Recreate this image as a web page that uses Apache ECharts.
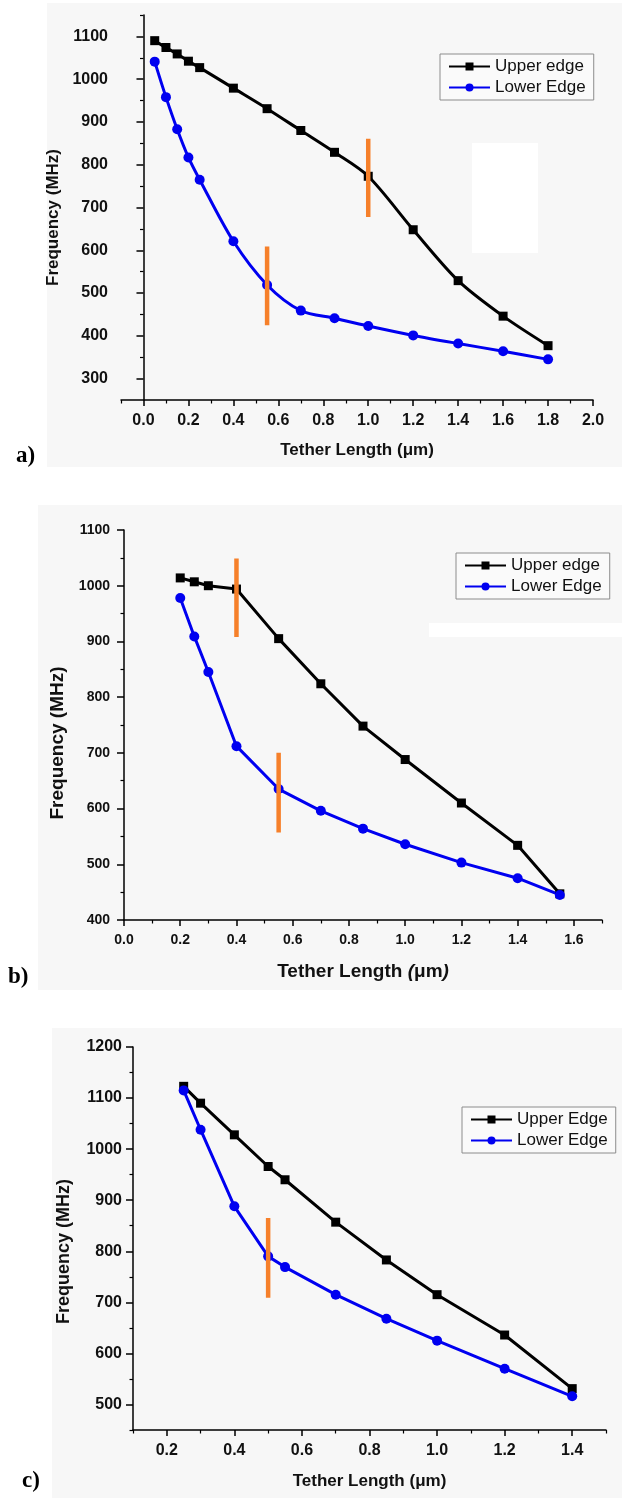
<!DOCTYPE html>
<html>
<head>
<meta charset="utf-8">
<script src="https://cdn.jsdelivr.net/npm/echarts@6/dist/echarts.min.js"></script>
<style>
  html, body { margin: 0; padding: 0; background: #fff; }
  #chart { width: 622px; height: 1498px; }
</style>
</head>
<body>
<div id="chart"></div>
<script>
// panel a
const xA = [0.05, 0.1, 0.15, 0.2, 0.25, 0.4, 0.55, 0.7, 0.85, 1.0, 1.2, 1.4, 1.6, 1.8]
const upperA = [1090, 1074, 1059, 1042, 1027, 979, 931, 880, 829, 773, 648, 529, 446, 377]
const lowerA = [1041, 958, 883, 817, 765, 621, 519, 459, 441, 423, 401, 382, 364, 345]
const markA1 = [[1.0, 861], [1.0, 678]]
const markA2 = [[0.55, 609], [0.55, 425]]
const xTicksA = [0.0, 0.2, 0.4, 0.6, 0.8, 1.0, 1.2, 1.4, 1.6, 1.8, 2.0]
const xMinorA = [-0.1, 0.1, 0.3, 0.5, 0.7, 0.9, 1.1, 1.3, 1.5, 1.7, 1.9]
const yTicksA = [300, 400, 500, 600, 700, 800, 900, 1000, 1100]
const yMinorA = [350, 450, 550, 650, 750, 850, 950, 1050, 1150]

// panel b
const xB = [0.2, 0.25, 0.3, 0.4, 0.55, 0.7, 0.85, 1.0, 1.2, 1.4, 1.55]
const upperB = [1014, 1007, 1000, 994, 905, 824, 748, 688, 610, 534, 447]
const lowerB = [978, 909, 845, 712, 635, 596, 564, 536, 503, 475, 445]
const markB1 = [[0.4, 1049], [0.4, 908]]
const markB2 = [[0.55, 700], [0.55, 557]]
const xTicksB = [0.0, 0.2, 0.4, 0.6, 0.8, 1.0, 1.2, 1.4, 1.6]
const xMinorB = [0.1, 0.3, 0.5, 0.7, 0.9, 1.1, 1.3, 1.5, 1.7]
const yTicksB = [400, 500, 600, 700, 800, 900, 1000, 1100]
const yMinorB = [450, 550, 650, 750, 850, 950, 1050]

// panel c
const xC = [0.25, 0.3, 0.4, 0.5, 0.55, 0.7, 0.85, 1.0, 1.2, 1.4]
const upperC = [1123, 1090, 1028, 966, 940, 857, 783, 715, 636, 531]
const lowerC = [1115, 1038, 888, 790, 769, 715, 668, 625, 570, 516]
const markC1 = [[0.5, 865], [0.5, 709]]
const xTicksC = [0.2, 0.4, 0.6, 0.8, 1.0, 1.2, 1.4]
const xMinorC = [0.1, 0.3, 0.5, 0.7, 0.9, 1.1, 1.3, 1.5]
const yTicksC = [500, 600, 700, 800, 900, 1000, 1100, 1200]
const yMinorC = [450, 550, 650, 750, 850, 950, 1050, 1150]

const FONT = 'Liberation Sans'
const BLUE = '#0000f0'
const ORANGE = '#f6802a'
const axisLine = { show: true, lineStyle: { color: '#000', width: 1.5 } }

const pair = (xs, ys) => xs.map((x, i) => [x, ys[i]])

const majorX = (grid, min, max, ticks, size, name, nameSize, nameGap) => ({
  type: 'value', gridIndex: grid, min, max, position: 'bottom',
  axisLine, splitLine: { show: false },
  axisTick: { show: true, length: 6, customValues: ticks, lineStyle: { color: '#000', width: 1.5 } },
  axisLabel: {
    customValues: ticks, margin: 13, color: '#111', fontFamily: FONT, fontWeight: 'bold', fontSize: size,
    formatter: (v) => v.toFixed(1),
  },
  name, nameLocation: 'middle', nameGap,
  nameTextStyle: {
    color: '#111', fontFamily: FONT, fontWeight: 'bold', fontSize: nameSize,
    rich: {
      n: { fontFamily: FONT, fontWeight: 'bold', fontSize: nameSize, color: '#111' },
      i: { fontFamily: FONT, fontWeight: 'bold', fontStyle: 'italic', fontSize: nameSize, color: '#111' },
    },
  },
})

const majorY = (grid, min, max, ticks, size, margin, nameSize, nameGap, shift) => ({
  type: 'value', gridIndex: grid, min, max, position: 'left',
  axisLine, splitLine: { show: false },
  axisTick: { show: true, length: 7, customValues: ticks, lineStyle: { color: '#000', width: 1.5 } },
  axisLabel: {
    customValues: ticks, margin, color: '#111', fontFamily: FONT, fontWeight: 'bold', fontSize: size,
    formatter: (v) => String(v),
  },
  name: 'Frequency (MHz)', nameLocation: 'middle', nameGap,
  nameTextStyle: { color: '#111', fontFamily: FONT, fontWeight: 'bold', fontSize: nameSize, padding: [0, shift, 0, 0] },
})

const minor = (grid, min, max, ticks, position) => ({
  type: 'value', gridIndex: grid, min, max, position, offset: 0,
  axisLine: { show: false }, splitLine: { show: false }, axisLabel: { show: false },
  axisTick: { show: true, length: 3.5, customValues: ticks, lineStyle: { color: '#000', width: 1.2 } },
})

const edge = (name, grid, xs, ys, color, symbol, smooth) => ({
  name, type: 'line', xAxisIndex: grid * 2, yAxisIndex: grid * 2,
  data: pair(xs, ys), smooth,
  symbol, symbolSize: symbol === 'rect' ? 9 : 10,
  lineStyle: { color, width: 3 }, itemStyle: { color },
  z: 3,
})

const mark = (grid, data) => ({
  type: 'line', xAxisIndex: grid * 2, yAxisIndex: grid * 2,
  data, symbol: 'none', silent: true,
  lineStyle: { color: ORANGE, width: 4.5, cap: 'butt' },
  z: 4,
})

const legend = (left, top, names) => ({
  left, top, orient: 'vertical', data: names,
  itemWidth: 41, itemHeight: 10, itemGap: 4,
  padding: [4, 8, 4, 8],
  borderColor: '#8c8c8c', borderWidth: 1, backgroundColor: '#fafafa',
  textStyle: { fontFamily: FONT, fontSize: 17, color: '#111', lineHeight: 17 },
  selectedMode: false,
})

const panelText = (text, x, y) => ({
  type: 'text', left: x, top: y, z: 10,
  style: { text, font: 'bold 23px "Liberation Serif"', fill: '#000' },
})

const chart = echarts.init(document.getElementById('chart'), null, { renderer: 'canvas' })

chart.setOption({
  animation: false,
  backgroundColor: '#ffffff',
  grid: [
    { left: 121, top: 15, width: 472, height: 385 },
    { left: 124, top: 530, width: 478, height: 390 },
    { left: 133, top: 1047, width: 473, height: 383 },
  ],
  xAxis: [
    majorX(0, -0.1, 2.0, xTicksA, 16, 'Tether Length (μm)', 17, 42),
    minor(0, -0.1, 2.0, xMinorA, 'bottom'),
    majorX(1, 0, 1.7, xTicksB, 14, '{n|Tether Length }{i|(}{n|μm}{i|)}', 19, 42),
    minor(1, 0, 1.7, xMinorB, 'bottom'),
    majorX(2, 0.1, 1.5, xTicksC, 16, 'Tether Length (μm)', 17, 43),
    minor(2, 0.1, 1.5, xMinorC, 'bottom'),
  ],
  yAxis: [
    majorY(0, 250, 1150, yTicksA, 16, 13, 17, 49, 20),
    minor(0, 250, 1150, yMinorA, 'left'),
    majorY(1, 400, 1100, yTicksB, 14, 14, 19, 57, 36),
    minor(1, 400, 1100, yMinorB, 'left'),
    majorY(2, 450, 1200, yTicksC, 16, 11, 18, 60, 26),
    minor(2, 450, 1200, yMinorC, 'left'),
  ],
  legend: [
    legend(440, 54, ['Upper edge', 'Lower Edge']),
    legend(456, 553, ['Upper edge', 'Lower Edge']),
    legend(462, 1107, ['Upper Edge', 'Lower Edge']),
  ],
  graphic: [
    // grey scan backgrounds and the white patches on them
    { type: 'rect', z: -10, shape: { x: 47, y: 3, width: 575, height: 464 }, style: { fill: '#f7f7f7' } },
    { type: 'rect', z: -9, shape: { x: 472, y: 143, width: 66, height: 110 }, style: { fill: '#ffffff' } },
    { type: 'rect', z: -10, shape: { x: 38, y: 505, width: 584, height: 485 }, style: { fill: '#f7f7f7' } },
    { type: 'rect', z: -9, shape: { x: 429, y: 623, width: 193, height: 14 }, style: { fill: '#ffffff' } },
    { type: 'rect', z: -10, shape: { x: 52, y: 1028, width: 570, height: 470 }, style: { fill: '#f7f7f7' } },
    panelText('a)', 16, 445),
    panelText('b)', 8, 966),
    panelText('c)', 22, 1470),
  ],
  series: [
    edge('Upper edge', 0, xA, upperA, '#000', 'rect', 0.3),
    edge('Lower Edge', 0, xA, lowerA, BLUE, 'circle', 0.3),
    mark(0, markA1),
    mark(0, markA2),
    edge('Upper edge', 1, xB, upperB, '#000', 'rect', false),
    edge('Lower Edge', 1, xB, lowerB, BLUE, 'circle', false),
    mark(1, markB1),
    mark(1, markB2),
    edge('Upper Edge', 2, xC, upperC, '#000', 'rect', false),
    edge('Lower Edge', 2, xC, lowerC, BLUE, 'circle', false),
    mark(2, markC1),
  ],
})
</script>
</body>
</html>
